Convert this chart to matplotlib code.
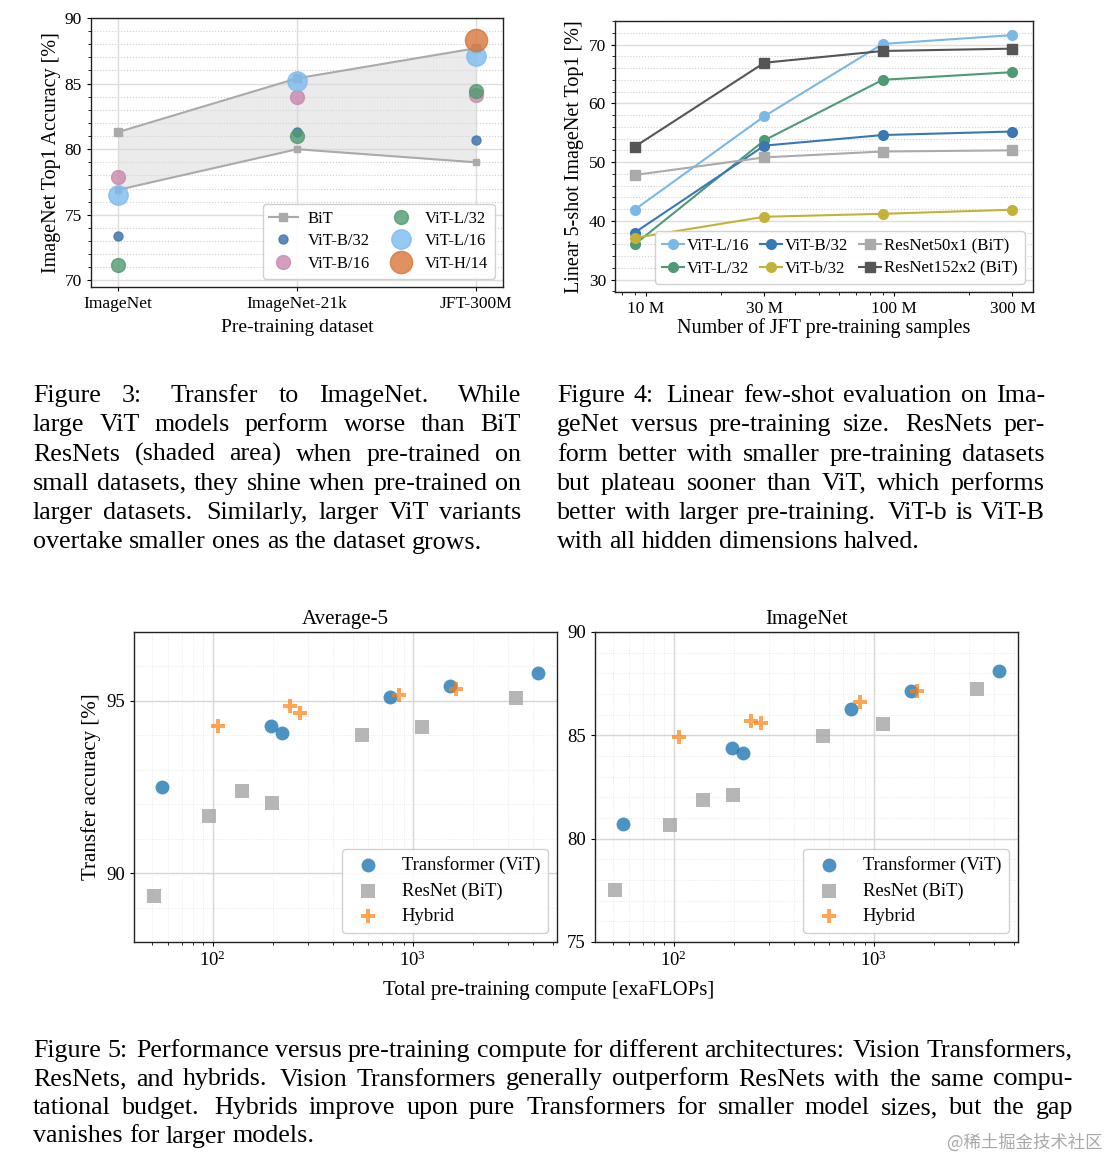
import numpy as np
import matplotlib
matplotlib.use('Agg')
import matplotlib.pyplot as plt
from matplotlib.ticker import MultipleLocator, LogLocator, NullFormatter, FixedLocator, FixedFormatter

# ---- data: figure 3 (transfer to ImageNet) ----
datasets = ['ImageNet', 'ImageNet-21k', 'JFT-300M']
bit_low = [76.9, 80.0, 79.0]
bit_high = [81.3, 85.4, 87.7]
vit_b32 = [73.4, 81.3, 80.7]
vit_b16 = [77.9, 84.0, 84.1]
vit_l32 = [71.2, 81.0, 84.4]
vit_l16 = [76.5, 85.2, 87.1]
vit_h14 = [np.nan, np.nan, 88.3]

# ---- data: figure 4 (linear 5-shot) ----
samples = [9e6, 30e6, 90e6, 300e6]
sample_ticks = [1e7, 3e7, 1e8, 3e8]
sample_labels = ['10 M', '30 M', '100 M', '300 M']
fs_vit_l16 = [41.9, 57.8, 70.1, 71.6]
fs_vit_l32 = [36.0, 53.7, 64.0, 65.3]
fs_vit_b32 = [38.0, 52.8, 54.6, 55.2]
fs_vit_b32_half = [37.1, 40.7, 41.2, 41.9]
fs_r50x1 = [47.8, 50.8, 51.8, 52.0]
fs_r152x2 = [52.6, 66.9, 68.9, 69.3]

# ---- data: figure 5 (accuracy vs compute) ----
vit_flops = [56, 195, 223, 772, 1537, 4210]
vit_avg5 = [92.49, 94.26, 94.06, 95.12, 95.43, 95.81]
vit_inet = [80.71, 84.37, 84.15, 86.29, 87.15, 88.10]
res_flops = [50.8, 96, 141, 198, 558, 1113, 3268]
res_avg5 = [89.33, 91.65, 92.39, 92.03, 94.0, 94.24, 95.08]
res_inet = [77.52, 80.65, 81.87, 82.11, 84.97, 85.56, 87.23]
hyb_flops = [106, 244, 273, 855, 1652]
hyb_avg5 = [94.26, 94.84, 94.66, 95.16, 95.34]
hyb_inet = [84.90, 85.69, 85.58, 86.61, 87.13]

cap3 = ["Figure 3:  Transfer to ImageNet.  While",
        "large ViT models perform worse than BiT",
        "ResNets (shaded area) when pre-trained on",
        "small datasets, they shine when pre-trained on",
        "larger datasets.  Similarly, larger ViT variants",
        "overtake smaller ones as the dataset grows."]
cap4 = ["Figure 4: Linear few-shot evaluation on Ima-",
        "geNet versus pre-training size.  ResNets per-",
        "form better with smaller pre-training datasets",
        "but plateau sooner than ViT, which performs",
        "better with larger pre-training. ViT-b is ViT-B",
        "with all hidden dimensions halved."]
cap5 = ["Figure 5: Performance versus pre-training compute for different architectures: Vision Transformers,",
        "ResNets, and hybrids.  Vision Transformers generally outperform ResNets with the same compu-",
        "tational budget.  Hybrids improve upon pure Transformers for smaller model sizes, but the gap",
        "vanishes for larger models."]

plt.rcParams['font.family'] = ['Liberation Serif', 'DejaVu Serif']
plt.rcParams['mathtext.fontset'] = 'custom'
plt.rcParams['mathtext.rm'] = 'Liberation Serif'
plt.rcParams['mathtext.it'] = 'Liberation Serif:italic'
plt.rcParams['axes.edgecolor'] = '#222222'
plt.rcParams['axes.linewidth'] = 1.0

W, H = 1114, 1160
fig = plt.figure(figsize=(W / 100, H / 100), dpi=100)


def add_ax(l, t, r, b):
    return fig.add_axes([l / W, 1 - b / H, (r - l) / W, (b - t) / H])


# ================= Figure 3 =================
ax = add_ax(91, 18, 503, 287)
x = np.arange(len(datasets))
ax.fill_between(x, bit_low, bit_high, color='#d8d8d8', alpha=0.5, lw=0, zorder=1)
ax.plot(x, bit_high, color='#aaaaaa', marker='s', ms=6, lw=1.5, label='BiT', zorder=2)
ax.plot(x, bit_low, color='#aaaaaa', marker='s', ms=5, lw=1.5, zorder=2)
ax.plot(x, vit_b32, 'o', ms=6.5, color='#3f78b0', alpha=0.85, label='ViT-B/32', zorder=3)
ax.plot(x, vit_b16, 'o', ms=10, color='#c887ad', alpha=0.8, label='ViT-B/16', zorder=3)
ax.plot(x, vit_l32, 'o', ms=10, color='#4f9a70', alpha=0.8, label='ViT-L/32', zorder=3)
ax.plot(x, vit_l16, 'o', ms=14, color='#7cbcee', alpha=0.8, label='ViT-L/16', zorder=3)
ax.plot(x, vit_h14, 'o', ms=16, color='#d8763a', alpha=0.8, label='ViT-H/14', zorder=3)
ax.set_xlim(-0.15, 2.15)
ax.set_ylim(69.5, 90)
ax.set_xticks(x)
ax.set_xticklabels(datasets)
ax.yaxis.set_major_locator(MultipleLocator(5))
ax.yaxis.set_minor_locator(MultipleLocator(1))
ax.grid(True, which='major', color='#dddddd', lw=1, zorder=0)
ax.grid(True, which='minor', axis='y', color='#cfcfcf', lw=0.8, ls=':', zorder=0)
ax.set_axisbelow(True)
ax.tick_params(labelsize=12.5, length=3)
ax.tick_params(which='minor', length=2)
ax.set_ylabel('ImageNet Top1 Accuracy [%]', fontsize=14.5, va='center')
ax.yaxis.set_label_coords(-0.095, 0.5)
ax.set_xlabel('Pre-training dataset', fontsize=14)
ax.xaxis.set_label_coords(0.5, -0.152)
ax.xaxis.label.set_va('center')
ax.legend(ncol=2, loc='lower right', fontsize=12, edgecolor='#cccccc', framealpha=0.9,
          handlelength=1.7, handletextpad=0.6, columnspacing=1.0, labelspacing=0.4)

# ================= Figure 4 =================
ax = add_ax(615, 21, 1033, 292)
ax.plot(samples, fs_vit_l16, '-o', color='#7ab8e6', ms=7, lw=1.5, label='ViT-L/16')
ax.plot(samples, fs_vit_l32, '-o', color='#4e9a77', ms=7, lw=1.5, label='ViT-L/32')
ax.plot(samples, fs_vit_b32, '-o', color='#3a78b4', ms=7, lw=1.5, label='ViT-B/32')
ax.plot(samples, fs_vit_b32_half, '-o', color='#c4b238', ms=7, lw=1.5, label='ViT-b/32')
ax.plot(samples, fs_r50x1, '-s', color='#aaaaaa', ms=7, lw=1.5, label='ResNet50x1 (BiT)')
ax.plot(samples, fs_r152x2, '-s', color='#555555', ms=7, lw=1.5, label='ResNet152x2 (BiT)')
ax.set_xscale('log')
ax.set_xlim(7.5e6, 3.63e8)
ax.set_ylim(27.9, 74)
ax.xaxis.set_major_locator(FixedLocator(sample_ticks))
ax.xaxis.set_major_formatter(FixedFormatter(sample_labels))
ax.xaxis.set_minor_locator(LogLocator(subs=np.arange(2, 10)))
ax.xaxis.set_minor_formatter(NullFormatter())
ax.yaxis.set_major_locator(MultipleLocator(10))
ax.yaxis.set_minor_locator(MultipleLocator(2))
ax.grid(True, which='major', axis='y', color='#dddddd', lw=1)
ax.grid(True, which='minor', axis='y', color='#cfcfcf', lw=0.8, ls=':')
ax.set_axisbelow(True)
ax.tick_params(labelsize=12.5, length=3)
ax.tick_params(which='minor', length=2)
ax.set_ylabel('Linear 5-shot ImageNet Top1 [%]', fontsize=14.5, va='center')
ax.yaxis.set_label_coords(-0.096, 0.5)
ax.set_xlabel('Number of JFT pre-training samples', fontsize=14.5)
ax.xaxis.set_label_coords(0.5, -0.133)
ax.xaxis.label.set_va('center')
ax.legend(ncol=3, loc='lower right', fontsize=12.2, edgecolor='#cccccc', framealpha=0.9,
          handlelength=1.3, handletextpad=0.2, columnspacing=0.6, labelspacing=0.4)

# ================= Figure 5 =================
panels = [(add_ax(134, 632, 557, 942), vit_avg5, res_avg5, hyb_avg5, 'Average-5', (88, 97), 5),
          (add_ax(595, 632, 1018, 942), vit_inet, res_inet, hyb_inet, 'ImageNet', (75, 90), 5)]
for i, (ax, yv, yr, yh, title, ylim, step) in enumerate(panels):
    ax.scatter(vit_flops, yv, s=100, marker='o', color='#1f77b4', alpha=0.8, lw=0,
               label='Transformer (ViT)', zorder=3)
    ax.scatter(res_flops, yr, s=115, marker='s', color='#a9a9a9', alpha=0.85, lw=0,
               label='ResNet (BiT)', zorder=3)
    ax.scatter(hyb_flops, yh, s=115, marker='P', color='#ff7f0e', alpha=0.7, lw=0,
               label='Hybrid', zorder=3)
    ax.set_xscale('log')
    ax.set_xlim(40.5, 5250)
    ax.set_ylim(*ylim)
    ax.yaxis.set_major_locator(MultipleLocator(step))
    ax.yaxis.set_minor_locator(MultipleLocator(1))
    ax.xaxis.set_minor_locator(LogLocator(subs=np.arange(2, 10)))
    ax.xaxis.set_minor_formatter(NullFormatter())
    ax.grid(True, which='major', color='#d6d6d6', lw=1)
    ax.grid(True, which='minor', color='#e6e6e6', lw=0.6, ls=':')
    ax.set_axisbelow(True)
    ax.tick_params(labelsize=13.5, length=3)
    ax.tick_params(which='minor', length=2)
    ax.tick_params(axis='y', which='minor', length=0)
    ax.set_title(title, fontsize=15, pad=6)
    ax.legend(loc='lower right', fontsize=13.4, edgecolor='#cccccc', framealpha=0.9,
              handlelength=2.0, handletextpad=0.8, labelspacing=0.45)
    if i == 0:
        ax.set_ylabel('Transfer accuracy [%]', fontsize=15, va='center')
        ax.yaxis.set_label_coords(-0.102, 0.5)

fig.text(549 / W, 1 - 990 / H, 'Total pre-training compute [exaFLOPs]', fontsize=15,
         ha='center', va='center')


# ================= captions (justified like LaTeX) =================
def caption(lines, x0, x1, y0, dy, size=18.7):
    r = fig.canvas.get_renderer()
    sp = size * 100 / 72 * 0.25
    for i, line in enumerate(lines):
        words = line.split()
        yb = 1 - (y0 + i * dy) / H
        txts = [fig.text(0, yb, w, fontsize=size, va='baseline', ha='left') for w in words]
        ws = [t.get_window_extent(r).width for t in txts]
        wts = [1.4 if w[-1] in '.:' else 1.0 for w in words[:-1]]
        if i < len(lines) - 1 and wts:
            unit = (x1 - x0 - sum(ws)) / sum(wts)
        else:
            unit = sp
        xx = x0
        for t, w, k in zip(txts, ws, wts + [0]):
            t.set_x(xx / W)
            xx += w + unit * k


caption(cap3, 33, 521, 402, 29.3)
caption(cap4, 557, 1045, 402, 29.3)
caption(cap5, 33, 1073, 1057, 28.5)

fig.text(1103 / W, 1 - 1143 / H, '@稀土掘金技术社区', ha='right', va='center', fontsize=12.5,
         color='#a8a8a8', family=['Noto Sans CJK SC', 'DejaVu Sans'])

fig.savefig('out.png', dpi=100)
